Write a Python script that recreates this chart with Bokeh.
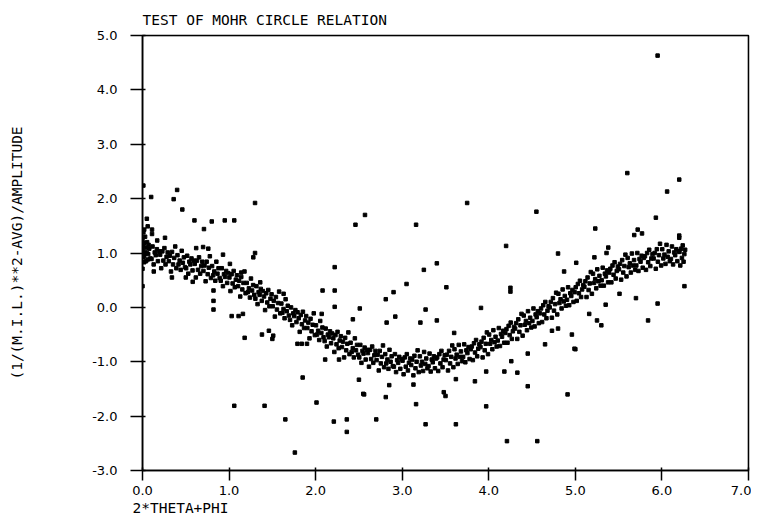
from bokeh.plotting import figure
from bokeh.models import Range1d, FixedTicker, PrintfTickFormatter, Title, BoxAnnotation
from bokeh.embed import file_html
from bokeh.resources import INLINE

# ---- data (band points, 8 per 0.1-wide slice) ----
band_x = [
 0.004,0.016,0.029,0.041,0.053,0.066,0.078,0.091,
 0.104,0.116,0.129,0.141,0.153,0.166,0.178,0.191,
 0.204,0.216,0.229,0.241,0.253,0.266,0.278,0.291,
 0.304,0.316,0.329,0.341,0.353,0.366,0.378,0.391,
 0.404,0.416,0.429,0.441,0.453,0.466,0.478,0.491,
 0.504,0.516,0.529,0.541,0.553,0.566,0.578,0.591,
 0.604,0.616,0.629,0.641,0.653,0.666,0.678,0.691,
 0.704,0.716,0.729,0.741,0.753,0.766,0.778,0.791,
 0.804,0.816,0.829,0.841,0.853,0.866,0.878,0.891,
 0.904,0.916,0.929,0.941,0.953,0.966,0.978,0.991,
 1.004,1.016,1.029,1.041,1.053,1.066,1.078,1.091,
 1.104,1.116,1.129,1.141,1.153,1.166,1.178,1.191,
 1.204,1.216,1.229,1.241,1.253,1.266,1.278,1.291,
 1.304,1.316,1.329,1.341,1.353,1.366,1.378,1.391,
 1.404,1.416,1.429,1.441,1.453,1.466,1.478,1.491,
 1.504,1.516,1.529,1.541,1.553,1.566,1.578,1.591,
 1.604,1.616,1.629,1.641,1.653,1.666,1.678,1.691,
 1.704,1.716,1.729,1.741,1.753,1.766,1.778,1.791,
 1.804,1.816,1.829,1.841,1.853,1.866,1.878,1.891,
 1.904,1.916,1.929,1.941,1.953,1.966,1.978,1.991,
 2.004,2.016,2.029,2.041,2.053,2.066,2.078,2.091,
 2.104,2.116,2.129,2.141,2.153,2.166,2.178,2.191,
 2.204,2.216,2.229,2.241,2.253,2.266,2.278,2.291,
 2.304,2.316,2.329,2.341,2.353,2.366,2.378,2.391,
 2.404,2.416,2.429,2.441,2.453,2.466,2.478,2.491,
 2.504,2.516,2.529,2.541,2.553,2.566,2.578,2.591,
 2.604,2.616,2.629,2.641,2.653,2.666,2.678,2.691,
 2.704,2.716,2.729,2.741,2.753,2.766,2.778,2.791,
 2.804,2.816,2.829,2.841,2.853,2.866,2.878,2.891,
 2.904,2.916,2.929,2.941,2.953,2.966,2.978,2.991,
 3.004,3.016,3.029,3.041,3.053,3.066,3.078,3.091,
 3.104,3.116,3.129,3.141,3.153,3.166,3.178,3.191,
 3.204,3.216,3.229,3.241,3.253,3.266,3.278,3.291,
 3.304,3.316,3.329,3.341,3.353,3.366,3.378,3.391,
 3.404,3.416,3.429,3.441,3.453,3.466,3.478,3.491,
 3.504,3.516,3.529,3.541,3.553,3.566,3.578,3.591,
 3.604,3.616,3.629,3.641,3.653,3.666,3.678,3.691,
 3.704,3.716,3.729,3.741,3.753,3.766,3.778,3.791,
 3.804,3.816,3.829,3.841,3.853,3.866,3.878,3.891,
 3.904,3.916,3.929,3.941,3.953,3.966,3.978,3.991,
 4.004,4.016,4.029,4.041,4.053,4.066,4.078,4.091,
 4.104,4.116,4.129,4.141,4.153,4.166,4.178,4.191,
 4.204,4.216,4.229,4.241,4.253,4.266,4.278,4.291,
 4.304,4.316,4.329,4.341,4.353,4.366,4.378,4.391,
 4.404,4.416,4.429,4.441,4.453,4.466,4.478,4.491,
 4.504,4.516,4.529,4.541,4.553,4.566,4.578,4.591,
 4.604,4.616,4.629,4.641,4.653,4.666,4.678,4.691,
 4.704,4.716,4.729,4.741,4.753,4.766,4.778,4.791,
 4.804,4.816,4.829,4.841,4.853,4.866,4.878,4.891,
 4.904,4.916,4.929,4.941,4.953,4.966,4.978,4.991,
 5.004,5.016,5.029,5.041,5.053,5.066,5.078,5.091,
 5.104,5.116,5.129,5.141,5.153,5.166,5.178,5.191,
 5.204,5.216,5.229,5.241,5.253,5.266,5.278,5.291,
 5.304,5.316,5.329,5.341,5.353,5.366,5.378,5.391,
 5.404,5.416,5.429,5.441,5.453,5.466,5.478,5.491,
 5.504,5.516,5.529,5.541,5.553,5.566,5.578,5.591,
 5.604,5.616,5.629,5.641,5.653,5.666,5.678,5.691,
 5.704,5.716,5.729,5.741,5.753,5.766,5.778,5.791,
 5.804,5.816,5.829,5.841,5.853,5.866,5.878,5.891,
 5.904,5.916,5.929,5.941,5.953,5.966,5.978,5.991,
 6.004,6.016,6.029,6.041,6.053,6.066,6.078,6.091,
 6.104,6.116,6.129,6.141,6.153,6.166,6.178,6.191,
 6.203,6.212,6.222,6.231,6.240,6.250,6.259,6.268,
]
band_y = [
 1.12,0.95,1.02,0.85,1.20,0.98,1.08,0.90,
 0.89,1.12,0.79,1.01,0.96,1.07,0.85,1.03,
 0.97,0.72,1.03,0.86,1.09,0.79,0.93,1.01,
 0.85,0.95,0.66,1.02,0.79,0.91,1.12,0.72,
 0.96,0.79,0.86,0.69,1.04,0.82,0.92,0.74,
 0.72,0.95,0.62,0.84,0.79,0.90,0.68,0.86,
 0.80,0.55,0.86,0.69,0.92,0.62,0.76,0.84,
 0.67,0.77,0.48,0.84,0.61,0.73,0.94,0.54,
 0.76,0.59,0.66,0.49,0.84,0.62,0.72,0.54,
 0.49,0.72,0.39,0.61,0.56,0.67,0.45,0.63,
 0.55,0.30,0.61,0.44,0.67,0.37,0.51,0.59,
 0.39,0.49,0.20,0.56,0.33,0.45,0.66,0.26,
 0.45,0.28,0.35,0.18,0.53,0.31,0.41,0.23,
 0.16,0.39,0.06,0.28,0.23,0.34,0.12,0.30,
 0.20,-0.05,0.26,0.09,0.32,0.02,0.16,0.24,
 0.02,0.12,-0.17,0.19,-0.04,0.08,0.29,-0.11,
 0.07,-0.10,-0.03,-0.20,0.15,-0.07,0.03,-0.15,
 -0.23,0.00,-0.33,-0.11,-0.16,-0.05,-0.27,-0.09,
 -0.20,-0.45,-0.14,-0.31,-0.08,-0.38,-0.24,-0.16,
 -0.38,-0.28,-0.57,-0.21,-0.44,-0.32,-0.11,-0.51,
 -0.33,-0.50,-0.43,-0.60,-0.25,-0.47,-0.37,-0.55,
 -0.62,-0.39,-0.72,-0.50,-0.55,-0.44,-0.66,-0.48,
 -0.57,-0.82,-0.51,-0.68,-0.45,-0.75,-0.61,-0.53,
 -0.73,-0.63,-0.92,-0.56,-0.79,-0.67,-0.46,-0.86,
 -0.65,-0.82,-0.75,-0.92,-0.57,-0.79,-0.69,-0.87,
 -0.92,-0.69,-1.02,-0.80,-0.85,-0.74,-0.96,-0.78,
 -0.84,-1.09,-0.78,-0.95,-0.72,-1.02,-0.88,-0.80,
 -0.97,-0.87,-1.16,-0.80,-1.03,-0.91,-0.70,-1.10,
 -0.86,-1.03,-0.96,-1.13,-0.78,-1.00,-0.90,-1.08,
 -1.09,-0.86,-1.19,-0.97,-1.02,-0.91,-1.13,-0.95,
 -0.98,-1.23,-0.92,-1.09,-0.86,-1.16,-1.02,-0.94,
 -1.06,-0.96,-1.25,-0.89,-1.12,-1.00,-0.79,-1.19,
 -0.90,-1.07,-1.00,-1.17,-0.82,-1.04,-0.94,-1.12,
 -1.08,-0.85,-1.18,-0.96,-1.01,-0.90,-1.12,-0.94,
 -0.92,-1.17,-0.86,-1.03,-0.80,-1.10,-0.96,-0.88,
 -0.97,-0.87,-1.16,-0.80,-1.03,-0.91,-0.70,-1.10,
 -0.77,-0.94,-0.87,-1.04,-0.69,-0.91,-0.81,-0.99,
 -0.91,-0.68,-1.01,-0.79,-0.84,-0.73,-0.95,-0.77,
 -0.72,-0.97,-0.66,-0.83,-0.60,-0.90,-0.76,-0.68,
 -0.73,-0.63,-0.92,-0.56,-0.79,-0.67,-0.46,-0.86,
 -0.50,-0.67,-0.60,-0.77,-0.42,-0.64,-0.54,-0.72,
 -0.61,-0.38,-0.71,-0.49,-0.54,-0.43,-0.65,-0.47,
 -0.40,-0.65,-0.34,-0.51,-0.28,-0.58,-0.44,-0.36,
 -0.39,-0.29,-0.58,-0.22,-0.45,-0.33,-0.12,-0.52,
 -0.15,-0.32,-0.25,-0.42,-0.07,-0.29,-0.19,-0.37,
 -0.25,-0.02,-0.35,-0.13,-0.18,-0.07,-0.29,-0.11,
 -0.02,-0.27,0.04,-0.13,0.10,-0.20,-0.06,0.02,
 0.00,0.10,-0.19,0.17,-0.06,0.06,0.27,-0.13,
 0.25,0.08,0.15,-0.02,0.33,0.11,0.21,0.03,
 0.14,0.37,0.04,0.26,0.21,0.32,0.10,0.28,
 0.37,0.12,0.43,0.26,0.49,0.19,0.33,0.41,
 0.38,0.48,0.19,0.55,0.32,0.44,0.65,0.25,
 0.62,0.45,0.52,0.35,0.70,0.48,0.58,0.40,
 0.50,0.73,0.40,0.62,0.57,0.68,0.46,0.64,
 0.71,0.46,0.77,0.60,0.83,0.53,0.67,0.75,
 0.70,0.80,0.51,0.87,0.64,0.76,0.97,0.57,
 0.91,0.74,0.81,0.64,0.99,0.77,0.87,0.69,
 0.77,1.00,0.67,0.89,0.84,0.95,0.73,0.91,
 0.94,0.69,1.00,0.83,1.06,0.76,0.90,0.98,
 0.90,1.00,0.71,1.07,0.84,0.96,1.17,0.77,
 1.07,0.90,0.97,0.80,1.15,0.93,1.03,0.85,
 0.89,1.12,0.79,1.01,0.96,1.07,0.85,1.03,
 1.02,0.77,1.08,0.91,1.14,0.84,0.98,1.06,
]

# ---- scattered points ----
scatter_x = [
 0.00,0.01,0.02,0.03,0.00,0.04,0.02,0.05,0.01,0.06,0.03,0.07,
 0.10,0.40,0.36,0.46,0.60,0.71,0.80,0.95,1.06,1.30,1.30,1.28,
 0.82,0.82,0.82,1.03,1.11,1.16,1.18,1.38,1.46,1.51,1.50,0.13,
 0.05,0.06,0.11,0.11,0.26,0.17,0.01,0.02,0.00,0.00,0.58,0.50,
 0.34,0.93,1.01,0.62,0.70,0.76,1.14,1.36,
 2.57,2.46,3.16,2.22,3.25,3.05,2.08,2.22,2.90,2.81,2.22,2.51,
 3.27,2.92,2.43,2.82,3.21,1.63,2.07,1.85,2.50,2.55,2.81,2.85,
 3.13,2.11,1.79,1.84,1.90,2.27,
 3.75,4.55,4.20,4.80,4.87,3.40,3.51,4.25,4.25,3.40,3.91,3.60,
 4.96,4.80,4.73,4.65,4.99,4.45,4.26,4.18,4.33,3.97,3.62,3.84,
 4.45,3.48,3.50,4.91,
 5.60,6.20,6.06,5.93,5.23,5.72,5.68,5.77,6.20,6.20,5.38,5.36,
 6.26,5.95,5.84,5.70,5.51,5.35,5.16,5.25,5.30,5.00,5.22,5.01,
 1.06,1.41,1.65,1.76,2.01,2.21,2.36,2.36,2.56,2.70,3.16,3.27,
 3.62,3.97,4.21,4.56,
 5.95,
]
scatter_y = [
 1.05,0.92,1.18,0.98,1.25,1.10,0.83,1.00,1.38,0.88,1.30,1.15,
 2.03,2.16,1.99,1.80,1.60,1.44,1.58,1.60,1.60,1.92,1.00,0.92,
 0.31,0.12,-0.04,-0.16,-0.16,-0.12,-0.56,-0.50,-0.43,-0.52,-0.58,0.66,
 1.63,1.49,1.43,1.35,1.28,1.23,2.24,1.43,0.39,0.71,0.47,0.55,
 0.55,0.97,0.80,1.09,1.11,1.08,0.64,0.46,
 1.70,1.52,1.52,0.74,0.69,0.43,0.31,0.31,0.28,0.15,0.01,-0.02,
 -0.04,-0.17,-0.22,-0.28,-0.28,0.25,-0.12,-1.29,-1.33,-1.59,-1.65,-1.43,
 -1.42,-0.96,-0.67,-0.67,-0.67,-0.96,
 1.92,1.76,1.13,0.99,0.66,0.81,0.37,0.36,0.29,-0.24,-0.01,-0.47,
 -0.50,-0.39,-0.43,-0.68,-0.76,-0.85,-0.99,-1.18,-1.20,-1.18,-1.32,-1.36,
 -1.45,-1.56,-1.63,-1.60,
 2.47,2.35,2.13,1.65,1.45,1.43,1.33,1.36,1.32,1.28,1.10,1.00,
 0.39,0.07,-0.24,0.17,0.25,0.05,-0.12,-0.24,-0.33,-0.77,0.92,0.82,
 -1.81,-1.81,-2.06,-2.67,-1.75,-2.10,-2.06,-2.29,-1.60,-2.06,-1.78,-2.15,
 -2.15,-1.82,-2.46,-2.46,
 4.63,
]

x_ticks = [0, 1, 2, 3, 4, 5, 6, 7]
y_ticks = [-3, -2, -1, 0, 1, 2, 3, 4, 5]

TITLE = "TEST OF MOHR CIRCLE RELATION"
XLABEL = "2*THETA+PHI"
YLABEL = "(1/(M.I.L.)**2-AVG)/AMPLITUDE"

MONO = "DejaVu Sans Mono"
SANS = "DejaVu Sans"

p = figure(width=751, height=520, output_backend="svg", toolbar_location=None,
           x_range=Range1d(x_ticks[0], x_ticks[-1]), y_range=Range1d(y_ticks[0], y_ticks[-1]),
           min_border_left=142, min_border_right=3, min_border_top=35, min_border_bottom=50)
p.grid.visible = False
p.outline_line_color = "black"
p.outline_line_width = 1.5

p.title.text = TITLE
p.title.text_font = MONO
p.title.text_font_size = "14.5px"
p.title.text_font_style = "normal"
p.title.text_color = "black"
p.title.align = "left"
p.title.standoff = 16

p.xaxis.ticker = FixedTicker(ticks=x_ticks)
p.yaxis.ticker = FixedTicker(ticks=y_ticks)
p.xaxis.formatter = PrintfTickFormatter(format="%.1f")
p.yaxis.formatter = PrintfTickFormatter(format="%.1f")
p.axis.axis_line_width = 1.5
p.axis.axis_line_color = "black"
p.axis.major_tick_line_width = 1.5
p.axis.major_tick_line_color = "black"
p.axis.major_tick_in = 3
p.axis.minor_tick_line_color = None
p.axis.major_label_text_font = SANS
p.axis.major_label_text_font_size = "13px"
p.axis.major_label_text_color = "black"
p.xaxis.major_tick_out = 10
p.yaxis.major_tick_out = 12
p.xaxis.major_label_standoff = 5
p.yaxis.major_label_standoff = 13

p.yaxis.axis_label = YLABEL
p.yaxis.axis_label_text_font = MONO
p.yaxis.axis_label_text_font_size = "14.5px"
p.yaxis.axis_label_text_font_style = "normal"
p.yaxis.axis_label_text_color = "black"
p.yaxis.axis_label_standoff = 64

# frame box (top and right borders as in the reference)
p.add_layout(BoxAnnotation(left=x_ticks[0], right=x_ticks[-1], bottom=y_ticks[0], top=y_ticks[-1],
                           fill_alpha=0, line_color="black", line_width=1.5))

# x-axis caption, left aligned under the first tick label
p.add_layout(Title(text=XLABEL, align="left", offset=-10, standoff=0,
                   text_font=MONO, text_font_size="14.5px", text_font_style="normal",
                   text_color="black"), "below")

p.scatter(band_x, band_y, marker="square", size=3.5, color="black")
p.scatter(scatter_x, scatter_y, marker="square", size=3.5, color="black")

open("out.html", "w").write(file_html(p, INLINE))
